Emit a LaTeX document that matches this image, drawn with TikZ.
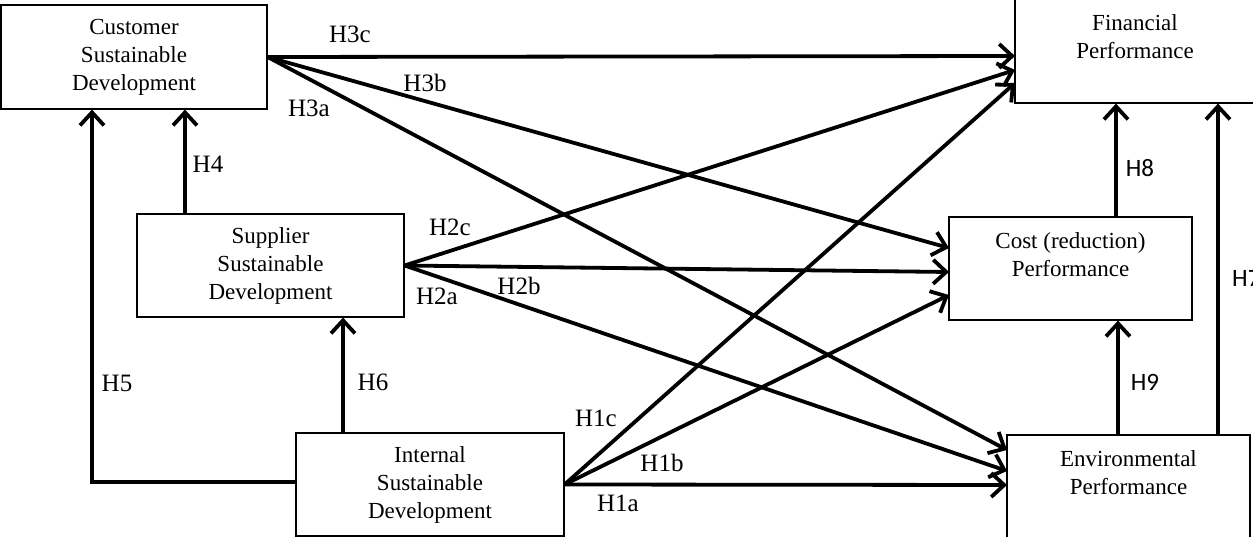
\documentclass[tikz,border=0pt]{standalone}
\usepackage{fontspec}
\setmainfont{Liberation Serif}
\newfontfamily\calfont{Carlito}
\usetikzlibrary{arrows.meta,calc}
\begin{document}
\begin{tikzpicture}[x=1pt,y=-1pt,
  box/.style={draw,line width=1.2pt,rectangle,inner sep=0pt,align=center,
    font=\fontsize{23}{28}\selectfont},
  arr/.style={line width=3.8pt,-{Straight Barb[length=13pt,width=24pt,line width=3.8pt]}},
  lab/.style={font=\fontsize{25}{30}\selectfont,inner sep=0pt},
  labs/.style={font=\calfont\fontsize{25}{30}\selectfont,inner sep=0pt}]
\useasboundingbox (0,0) rectangle (1253,537);
% boxes
\node[box,minimum width=266pt,minimum height=104pt] (cust) at (134,57) {Customer\\Sustainable\\Development};
\node[box,minimum width=240pt,minimum height=104pt] (fin) at (1135,51) {Financial\\Performance\\~};
\node[box,minimum width=267pt,minimum height=103pt] (sup) at (270.5,265.5) {Supplier\\Sustainable\\Development};
\node[box,minimum width=243pt,minimum height=103pt] (cost) at (1070.5,268.5) {Cost (reduction)\\Performance\\~};
\node[box,minimum width=268pt,minimum height=103pt] (int) at (430,484.5) {Internal\\Sustainable\\Development};
\node[box,minimum width=243pt,minimum height=104pt] (env) at (1128.5,487) {Environmental\\Performance\\~};
% target coordinates
\coordinate (f1) at (1015,56);
\coordinate (f2) at (1015,70);
\coordinate (f3) at (1015,83);
\coordinate (c1) at (949,248);
\coordinate (c2) at (949,272);
\coordinate (c3) at (949,295);
\coordinate (e1) at (1007,450);
\coordinate (e2) at (1007,471);
\coordinate (e3) at (1007,485);
\coordinate (x5) at (92,0);
\coordinate (x4) at (185,0);
\coordinate (x6) at (343,0);
\coordinate (x8) at (1116,0);
\coordinate (x9) at (1118,0);
\coordinate (x7) at (1218,0);
\coordinate (k5) at (92,482);
% H3
\draw[arr] (cust.east) -- (f1);
\draw[arr] (cust.east) -- (c1);
\draw[arr] (cust.east) -- (e1);
% H2
\draw[arr] (sup.east) -- (f2);
\draw[arr] (sup.east) -- (c2);
\draw[arr] (sup.east) -- (e2);
% H1
\draw[arr] (int.east) -- (f3);
\draw[arr] (int.east) -- (c3);
\draw[arr] (int.east) -- (e3);
% verticals
\draw[arr] (sup.north -| x4) -- (cust.south -| x4);
\draw[arr] (int.west |- k5) -- (k5) -- (cust.south -| x5);
\draw[arr] (int.north -| x6) -- (sup.south -| x6);
\draw[arr] (cost.north -| x8) -- (fin.south -| x8);
\draw[arr] (env.north -| x9) -- (cost.south -| x9);
\draw[arr] (env.north -| x7) -- (fin.south -| x7);
% labels
\node[lab] (l3c) at (350,34) {H3c};
\node[lab] (l3b) at (425,83) {H3b};
\node[lab] (l3a) at (309,108) {H3a};
\node[lab] (l4) at (208,164) {H4};
\node[lab] (l2c) at (450,227) {H2c};
\node[lab] (l2b) at (519,286) {H2b};
\node[lab] (l2a) at (437,296) {H2a};
\node[lab] (l5) at (117,383) {H5};
\node[lab] (l6) at (373,382) {H6};
\node[lab] (l1c) at (596,418) {H1c};
\node[lab] (l1b) at (662,463) {H1b};
\node[lab] (l1a) at (618,503) {H1a};
\node[labs] (l8) at (1140,168) {H8};
\node[labs] (l9) at (1145,382) {H9};
\node[labs,anchor=west] (l7) at (1232,278) {H7};
\end{tikzpicture}
\end{document}
